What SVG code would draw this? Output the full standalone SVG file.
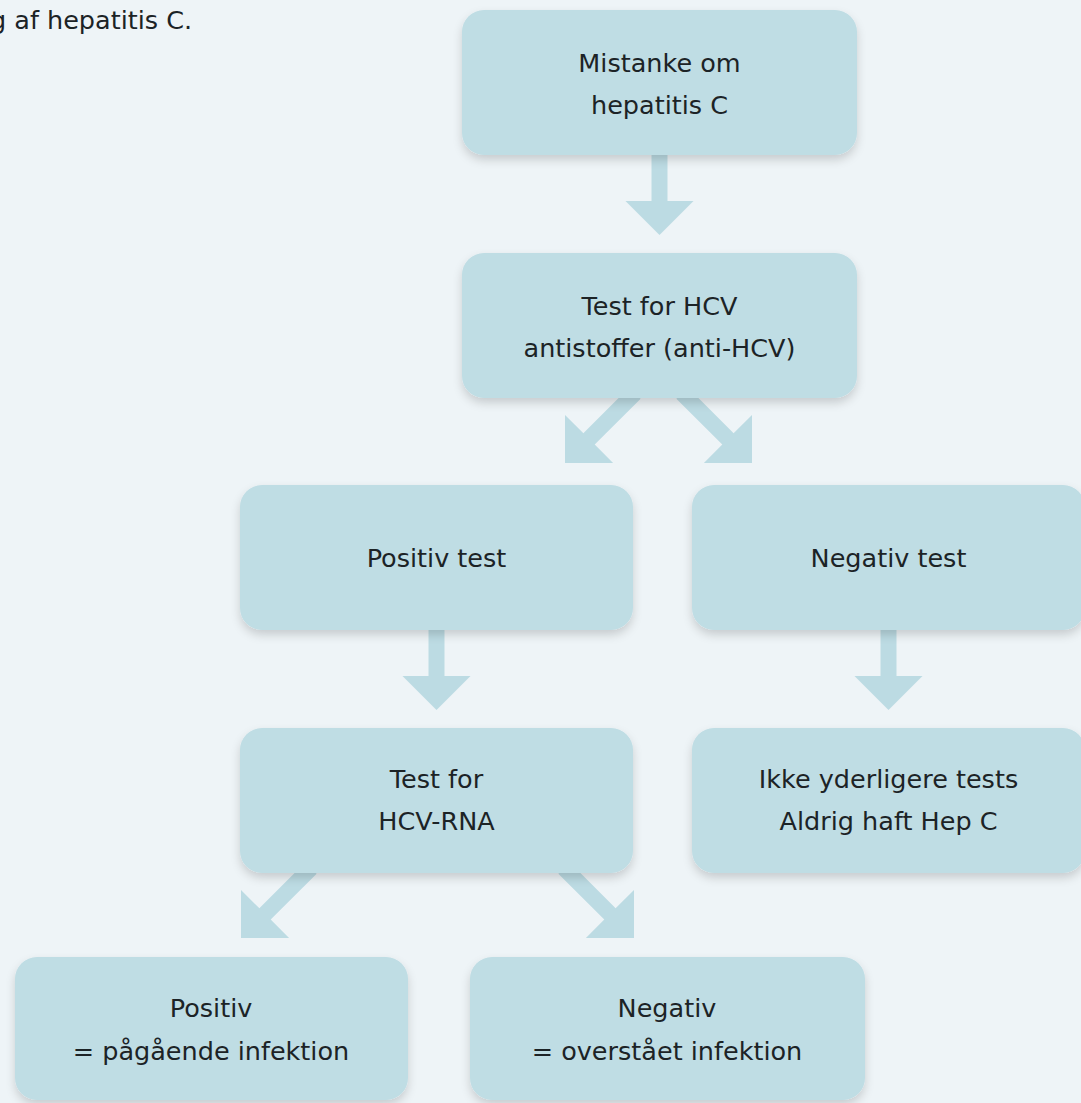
<svg xmlns="http://www.w3.org/2000/svg" xmlns:xlink="http://www.w3.org/1999/xlink" width="1081" height="1103" viewBox="0 0 1081 1103">
  <defs>
    <style>
      .box { fill: #bfdde4; filter: url(#sh); }
      .t { font-family: "DejaVu Sans", Verdana, sans-serif; font-size: 25.5px; fill: #1c2326; text-anchor: middle; }
      .cap { font-family: "DejaVu Sans", Verdana, sans-serif; font-size: 25.5px; fill: #1c2326; }
      .arr { fill: #bcdbe3; }
    </style>
    <filter id="sh" x="-10%" y="-10%" width="120%" height="130%">
      <feDropShadow dx="0" dy="5" stdDeviation="5" flood-color="#000" flood-opacity="0.16"/>
    </filter>
    <path id="arrow" d="M0,0 L-34,-34 L-8,-34 L-8,-99 L8,-99 L8,-34 L34,-34 Z"/>
  </defs>
  <rect width="1081" height="1103" fill="#eef4f7"/>
  <text class="cap" x="-10" y="29">g af hepatitis C.</text>

  <g id="connectors" class="arr">
    <use xlink:href="#arrow" transform="translate(659.5,235)"/>
    <use xlink:href="#arrow" transform="translate(565,463) rotate(45)"/>
    <use xlink:href="#arrow" transform="translate(752,463) rotate(-45)"/>
    <use xlink:href="#arrow" transform="translate(436.5,710)"/>
    <use xlink:href="#arrow" transform="translate(888.5,710)"/>
    <use xlink:href="#arrow" transform="translate(241,938) rotate(45)"/>
    <use xlink:href="#arrow" transform="translate(634,938) rotate(-45)"/>
  </g>

  <g id="n1">
    <rect class="box" x="462" y="10" width="395" height="145" rx="22"/>
    <text class="t" x="659.5" y="72">Mistanke om</text>
    <text class="t" x="659.5" y="114">hepatitis C</text>
  </g>
  <g id="n2">
    <rect class="box" x="462" y="253" width="395" height="145" rx="22"/>
    <text class="t" x="659.5" y="315">Test for HCV</text>
    <text class="t" x="659.5" y="357">antistoffer (anti-HCV)</text>
  </g>
  <g id="n3">
    <rect class="box" x="240" y="485" width="393" height="145" rx="22"/>
    <text class="t" x="436.5" y="567">Positiv test</text>
  </g>
  <g id="n4">
    <rect class="box" x="692" y="485" width="393" height="145" rx="22"/>
    <text class="t" x="888.5" y="567">Negativ test</text>
  </g>
  <g id="n5">
    <rect class="box" x="240" y="728" width="393" height="145" rx="22"/>
    <text class="t" x="436.5" y="788">Test for</text>
    <text class="t" x="436.5" y="830">HCV-RNA</text>
  </g>
  <g id="n6">
    <rect class="box" x="692" y="728" width="393" height="145" rx="22"/>
    <text class="t" x="888.5" y="788">Ikke yderligere tests</text>
    <text class="t" x="888.5" y="830">Aldrig haft Hep C</text>
  </g>
  <g id="n7">
    <rect class="box" x="15" y="957" width="393" height="143" rx="22"/>
    <text class="t" x="211" y="1017">Positiv</text>
    <text class="t" x="211" y="1060">= pågående infektion</text>
  </g>
  <g id="n8">
    <rect class="box" x="470" y="957" width="395" height="143" rx="22"/>
    <text class="t" x="667" y="1017">Negativ</text>
    <text class="t" x="667" y="1060">= overstået infektion</text>
  </g>
</svg>
